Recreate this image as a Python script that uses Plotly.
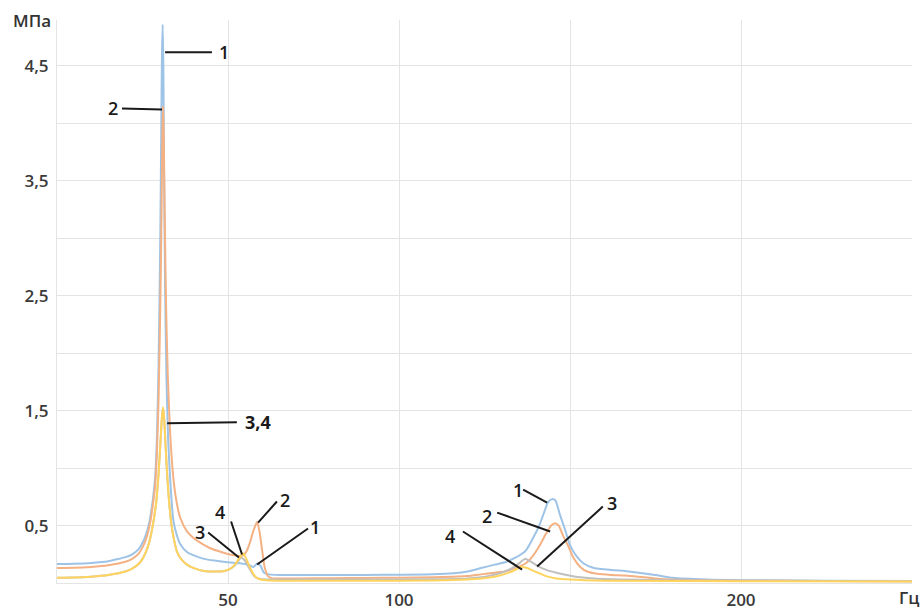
import plotly.graph_objects as go

# Frequency response of stress amplitude for four variants (1..4)
freq_1 = [0, 5, 10, 15, 18, 20, 22, 24, 25, 26, 27, 28, 28.7, 29.2, 29.7, 30.2, 30.5, 30.7, 30.9, 31.1, 31.3,
          31.6, 32.0, 32.5, 33.2, 34, 35, 36, 38, 40, 43, 46, 50, 52, 54, 55, 56, 57.5, 58.5, 59.5, 60.5,
          62, 65, 70, 80, 90, 100, 110, 116, 120, 124, 128, 131, 134, 137, 139, 141, 142.5, 143.5, 144.7,
          145.7, 147, 148.5, 150, 152, 154, 157, 160, 163, 166, 170, 175, 180, 190, 200, 225, 250]
stress_1 = [0.165, 0.168, 0.175, 0.19, 0.21, 0.225, 0.25, 0.30, 0.35, 0.42, 0.53, 0.72, 0.92, 1.25, 1.9, 3.0,
            4.0, 4.6, 4.86, 4.5, 3.6, 2.6, 1.8, 1.25, 0.85, 0.55, 0.42, 0.34, 0.27, 0.24, 0.21, 0.195,
            0.18, 0.175, 0.17, 0.165, 0.16, 0.14, 0.17, 0.15, 0.09, 0.075, 0.07, 0.07, 0.07, 0.07,
            0.072, 0.076, 0.085, 0.10, 0.13, 0.16, 0.18, 0.22, 0.28, 0.38, 0.50, 0.62, 0.70, 0.73,
            0.72, 0.60, 0.47, 0.33, 0.23, 0.17, 0.13, 0.12, 0.11, 0.105, 0.09, 0.07, 0.045, 0.03,
            0.025, 0.02, 0.018]

freq_2 = [0, 5, 10, 15, 20, 22, 24, 25, 26, 27, 28, 28.7, 29.2, 29.7, 30.2, 30.6, 30.8, 31.0, 31.2, 31.5,
          31.9, 32.4, 33.1, 34, 35, 36, 38, 40, 42, 45, 48, 51, 53, 54.5, 55.5, 56.5, 57.5, 58.5, 59.2,
          60.0, 60.7, 61.7, 63, 66, 70, 80, 90, 100, 110, 116, 120, 124, 128, 131, 134, 137, 139, 141,
          143, 144.5, 145.6, 146.7, 148, 149.5, 151, 153, 155, 158, 162, 166, 170, 175, 180, 190, 200,
          225, 250]
stress_2 = [0.13, 0.132, 0.14, 0.155, 0.185, 0.21, 0.26, 0.31, 0.38, 0.49, 0.67, 0.85, 1.12, 1.6, 2.4, 3.3,
            3.9, 4.15, 3.9, 3.2, 2.4, 1.8, 1.3, 0.92, 0.70, 0.57, 0.45, 0.39, 0.35, 0.30, 0.27, 0.245,
            0.235, 0.24, 0.28, 0.36, 0.46, 0.53, 0.45, 0.28, 0.14, 0.06, 0.04, 0.04, 0.04, 0.042,
            0.044, 0.046, 0.05, 0.055, 0.06, 0.075, 0.09, 0.10, 0.13, 0.17, 0.23, 0.32, 0.43, 0.50,
            0.52, 0.50, 0.41, 0.32, 0.22, 0.14, 0.10, 0.08, 0.07, 0.065, 0.055, 0.04, 0.03, 0.025,
            0.02, 0.018, 0.016]

freq_3 = [0, 5, 10, 15, 20, 22, 24, 25, 26, 27, 28, 29.0, 29.7, 30.3, 30.7, 31.0, 31.3, 31.7, 32.2, 32.8,
          33.5, 34.2, 35, 36, 38, 40, 43, 46, 49, 51, 52.5, 53.8, 54.8, 56, 57, 58, 59.5, 62, 70, 90,
          110, 120, 126, 130, 133, 135.5, 136.8, 138.3, 141, 143.5, 146, 149, 153, 160, 200, 250]
stress_3 = [0.045, 0.047, 0.055, 0.07, 0.10, 0.125, 0.17, 0.21, 0.27, 0.36, 0.50, 0.70, 0.95, 1.25, 1.45,
            1.52, 1.45, 1.22, 0.95, 0.70, 0.50, 0.38, 0.28, 0.22, 0.16, 0.13, 0.105, 0.10, 0.105, 0.13,
            0.17, 0.22, 0.20, 0.14, 0.09, 0.05, 0.035, 0.03, 0.03, 0.03, 0.032, 0.04, 0.06, 0.09, 0.13,
            0.18, 0.21, 0.19, 0.14, 0.11, 0.09, 0.07, 0.05, 0.035, 0.02, 0.015]

freq_4 = [0, 5, 10, 15, 20, 22, 24, 25, 26, 27, 28, 29.0, 29.7, 30.3, 30.7, 31.0, 31.3, 31.7, 32.2, 32.8,
          33.5, 34.2, 35, 36, 38, 40, 43, 46, 49, 51, 52.5, 53.6, 54.4, 55.2, 56.2, 57.2, 58.2, 59.5,
          62, 70, 90, 110, 120, 126, 130, 133, 135, 136, 137.5, 139, 141, 143, 146, 150, 160, 200, 250]
stress_4 = [0.045, 0.047, 0.055, 0.07, 0.10, 0.125, 0.17, 0.21, 0.27, 0.36, 0.50, 0.70, 0.95, 1.25, 1.45,
            1.53, 1.45, 1.22, 0.95, 0.70, 0.50, 0.38, 0.28, 0.22, 0.16, 0.13, 0.105, 0.10, 0.105, 0.13,
            0.18, 0.23, 0.26, 0.22, 0.15, 0.09, 0.05, 0.03, 0.022, 0.02, 0.02, 0.022, 0.03, 0.045,
            0.07, 0.10, 0.13, 0.14, 0.13, 0.11, 0.085, 0.06, 0.04, 0.03, 0.02, 0.015, 0.013]

x_tick_vals = [0, 50, 100, 150, 200, 250]
x_tick_text = ["", "50", "100", "", "200", ""]
y_tick_vals = [0, 0.5, 1.0, 1.5, 2.0, 2.5, 3.0, 3.5, 4.0, 4.5]
y_tick_text = ["", "0,5", "", "1,5", "", "2,5", "", "3,5", "", "4,5"]

series = [
    (freq_1, stress_1, "#9dc3e6", "1"),
    (freq_2, stress_2, "#f4b183", "2"),
    (freq_3, stress_3, "#bfbfbf", "3"),
    (freq_4, stress_4, "#ffd45e", "4"),
]

W, H = 922, 610
L, R, T, B = 57, 10, 20, 27

fig = go.Figure()
for fx, sy, col, name in series:
    fig.add_trace(go.Scatter(x=fx, y=sy, mode="lines", name=name,
                             line=dict(color=col, width=2, shape="spline", smoothing=0.6),
                             hoverinfo="x+y"))

# Leader lines with curve numbers: (x0, y0, x1, y1, text x, text y, label, bold)
leaders = [
    (31.6, 4.62, 45.3, 4.62, 48.8, 4.62, "1", False),
    (19.0, 4.13, 30.7, 4.12, 16.4, 4.13, "2", False),
    (32.2, 1.39, 52.6, 1.40, 58.8, 1.40, "3,4", True),
    (50.9, 0.535, 54.1, 0.248, 47.7, 0.62, "4", False),
    (44.2, 0.44, 53.2, 0.222, 41.8, 0.44, "3", False),
    (64.3, 0.709, 58.8, 0.526, 66.7, 0.726, "2", False),
    (73.4, 0.474, 58.5, 0.161, 75.4, 0.49, "1", False),
    (136.3, 0.813, 143.3, 0.70, 134.8, 0.813, "1", False),
    (128.7, 0.613, 144.2, 0.448, 125.7, 0.587, "2", False),
    (159.6, 0.665, 140.4, 0.143, 162.3, 0.70, "3", False),
    (118.7, 0.448, 136.0, 0.117, 114.9, 0.413, "4", False),
]
for x0, y0, x1, y1, tx, ty, label, bold in leaders:
    fig.add_shape(type="line", x0=x0, y0=y0, x1=x1, y1=y1, xref="x", yref="y",
                  line=dict(color="#1a1a1a", width=2))
    fig.add_annotation(x=tx, y=ty, xref="x", yref="y", text=label, showarrow=False,
                       xanchor="center", yanchor="middle",
                       font=dict(family="Open Sans", size=18, color="#1a1a1a",
                                 weight=700 if bold else 600))


def paper_xy(px, py):
    return (px - L) / (W - L - R), 1 - (py - T) / (H - T - B)


# Axis unit captions
for px, py, txt in [(32, 21, "МПа"), (909, 597, "Гц")]:
    ax, ay = paper_xy(px, py)
    fig.add_annotation(x=ax, y=ay, xref="paper", yref="paper", text=txt, showarrow=False,
                       xanchor="center", yanchor="middle",
                       font=dict(family="Open Sans", size=17, color="#333333", weight=600))

grid = "#e4e4e4"
tick_font = dict(family="Open Sans", size=17, color="#3a3a3a", weight=600)
fig.update_layout(
    width=W, height=H,
    margin=dict(l=L, r=R, t=T, b=B),
    paper_bgcolor="white", plot_bgcolor="white",
    showlegend=False,
    xaxis=dict(range=[0, 250], tickvals=x_tick_vals, ticktext=x_tick_text,
               showgrid=True, gridcolor=grid, gridwidth=1, zeroline=False,
               showline=True, linecolor=grid, linewidth=1, ticks="", automargin=False,
               ticklabelstandoff=2, tickfont=tick_font),
    yaxis=dict(range=[0, 4.9], tickvals=y_tick_vals, ticktext=y_tick_text,
               showgrid=True, gridcolor=grid, gridwidth=1, zeroline=False,
               showline=True, linecolor=grid, linewidth=1, ticks="", automargin=False,
               ticklabelstandoff=4, tickfont=tick_font),
)

fig.write_html("out.html")
